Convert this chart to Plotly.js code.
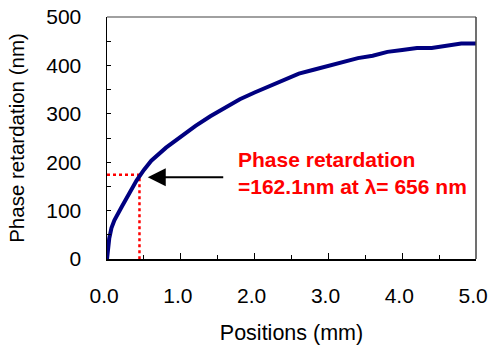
<!DOCTYPE html>
<html>
<head>
<meta charset="utf-8">
<script src="https://cdn.plot.ly/plotly-3.0.1.min.js"></script>
<style>html,body{margin:0;padding:0;background:#fff;}#chart{width:488px;height:349px;}</style>
</head>
<body>
<div id="chart"></div>
<script>
// Data
const positions = [0, 0.01, 0.03, 0.06, 0.1, 0.2, 0.3, 0.4, 0.5, 0.6, 0.8, 1.0, 1.2, 1.4, 1.6, 1.8, 2.0, 2.2, 2.4, 2.6, 2.8, 3.0, 3.2, 3.4, 3.6, 3.8, 4.0, 4.2, 4.4, 4.6, 4.8, 5.0];
const retardation = [0, 20, 42, 64, 80, 108, 135, 162, 184, 203, 230, 253, 275, 295, 313, 330, 344, 357, 370, 383, 391, 399, 407, 415, 420, 428, 432, 436, 436, 440, 445, 445];
const markX = 0.44;       // position of marked point (mm)
const markY = 174;        // retardation at marked point (nm)
const guideX = [0, markX, markX];
const guideY = [markY, markY, 0];
const arrowTip = {x: 0.552, y: 169};
const noteLines = ["Phase retardation", "=162.1nm at λ= 656 nm"];
const noteX = 1.75;
const noteY = [204.7, 149.6];
const xTicks = [0, 1, 2, 3, 4, 5];
const xTickText = ["0.0", "1.0", "2.0", "3.0", "4.0", "5.0"];

const font = "Arial, 'Liberation Sans', sans-serif";

const traces = [
  {x: guideX, y: guideY, mode: 'lines', line: {color: '#ff0000', width: 2.5, dash: 'dot'}, hoverinfo: 'skip'},
  {x: positions, y: retardation, mode: 'lines', line: {color: '#000080', width: 4}}
];

const layout = {
  width: 488, height: 349,
  margin: {l: 107, r: 12, t: 17, b: 90},
  showlegend: false,
  paper_bgcolor: '#fff', plot_bgcolor: '#fff',
  font: {family: font, size: 21, color: '#000'},
  xaxis: {
    range: [0, 5], tickvals: xTicks,
    ticktext: xTickText.map(t => t + '\u00a0'),
    showgrid: false, zeroline: false,
    showline: true, linecolor: '#000', linewidth: 1.5,
    ticks: 'inside', ticklen: 6, tickwidth: 1, tickcolor: '#000',
    minor: {dtick: 0.5, ticks: 'inside', ticklen: 4, tickcolor: '#000', showgrid: false},
    ticklabelstandoff: 17,
    ticklabeloverflow: 'allow',
    tickfont: {size: 21},
    title: {text: 'Positions (mm)', font: {size: 21.5}, standoff: 19}
  },
  yaxis: {
    range: [0, 500], dtick: 100,
    showgrid: false, zeroline: false,
    showline: true, linecolor: '#000', linewidth: 1.5,
    ticks: 'inside', ticklen: 4, tickwidth: 1, tickcolor: '#000',
    minor: {dtick: 50, ticks: 'inside', ticklen: 4, tickcolor: '#000', showgrid: false},
    ticklabelstandoff: 20,
    tickfont: {size: 21},
    title: {text: 'Phase retardation (nm)', font: {size: 20.5}, standoff: 16}
  },
  shapes: [
    {type: 'line', xref: 'paper', yref: 'paper', x0: 0, x1: 1, y0: 1, y1: 1, line: {color: '#808080', width: 1.5}},
    {type: 'line', xref: 'paper', yref: 'paper', x0: 1, x1: 1, y0: 0, y1: 1, line: {color: '#404040', width: 1.5}}
  ],
  annotations: [
    {x: arrowTip.x, y: arrowTip.y, xref: 'x', yref: 'y', text: '', showarrow: true,
     ax: 77, ay: 0, arrowhead: 2, arrowsize: 1.8, arrowwidth: 2, arrowcolor: '#000', standoff: 0},
    {x: noteX, y: noteY[0], xref: 'x', yref: 'y', text: '<b>' + noteLines[0] + '</b>', showarrow: false,
     xanchor: 'left', yanchor: 'middle', font: {color: '#ff0000', size: 21, family: font}},
    {x: noteX, y: noteY[1], xref: 'x', yref: 'y', text: '<b>' + noteLines[1] + '</b>', showarrow: false,
     xanchor: 'left', yanchor: 'middle', font: {color: '#ff0000', size: 21, family: font}}
  ]
};

Plotly.newPlot('chart', traces, layout, {displayModeBar: false, staticPlot: true});
</script>
</body>
</html>
